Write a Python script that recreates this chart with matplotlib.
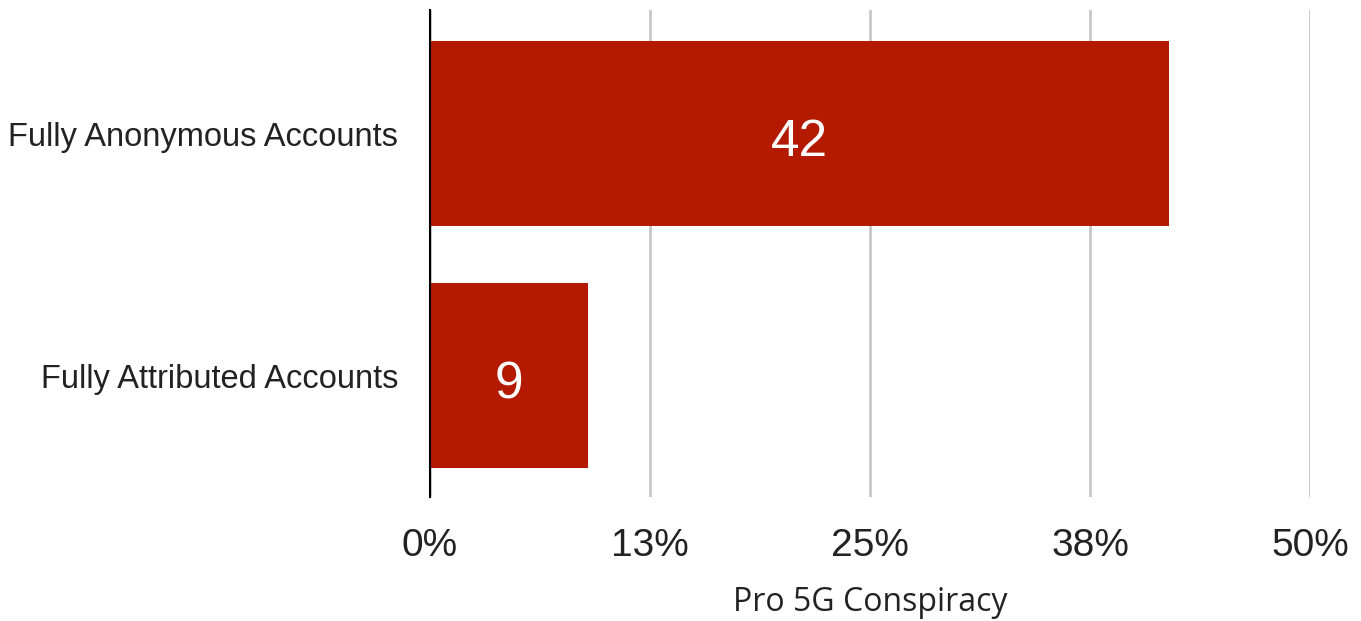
import matplotlib
matplotlib.use("Agg")
import matplotlib.pyplot as plt
import matplotlib.transforms as mtransforms

categories = ["Fully Anonymous Accounts", "Fully Attributed Accounts"]
values = [42, 9]
tick_values = [0, 12.5, 25, 37.5, 50]
tick_labels = ["0%", "13%", "25%", "38%", "50%"]
x_label = "Pro 5G Conspiracy"

fig = plt.figure(figsize=(13.61, 6.21), dpi=100)
ax = fig.add_axes([430/1361, 1-497/621, 880/1361, 487/621])

pos = list(range(len(categories)))
bars = ax.barh(pos, values, height=0.764, color="#b31a00", zorder=3)
shift = mtransforms.offset_copy(ax.transData, fig=fig, x=0, y=-9, units="dots")
for p, v in zip(pos, values):
    ax.text(v/2, p, str(v), ha="center", va="center", color="white",
            fontsize=37, family="Liberation Sans", zorder=4, transform=shift)

ax.set_xlim(0, 50)
ax.set_ylim(1.50, -0.51)
ax.set_yticks(pos)
ax.set_yticklabels(categories, fontsize=23.5, family="Liberation Sans", color="#222222")
ax.set_xticks(tick_values)
ax.set_xticklabels(tick_labels, fontsize=28, family="Liberation Sans", color="#222222")
ax.tick_params(axis="both", length=0)
ax.tick_params(axis="y", pad=23)
ax.tick_params(axis="x", pad=22)
ax.set_xlabel(x_label, fontsize=23, family="Open Sans", color="#222222", labelpad=16)

ax.grid(axis="x", color="#c8c8c8", linewidth=2, zorder=0)
for s in ["top", "right", "bottom"]:
    ax.spines[s].set_visible(False)
ax.spines["left"].set_color("black")
ax.spines["left"].set_linewidth(1.5)
ax.spines["left"].set_zorder(5)

fig.savefig("out.png", dpi=100)
